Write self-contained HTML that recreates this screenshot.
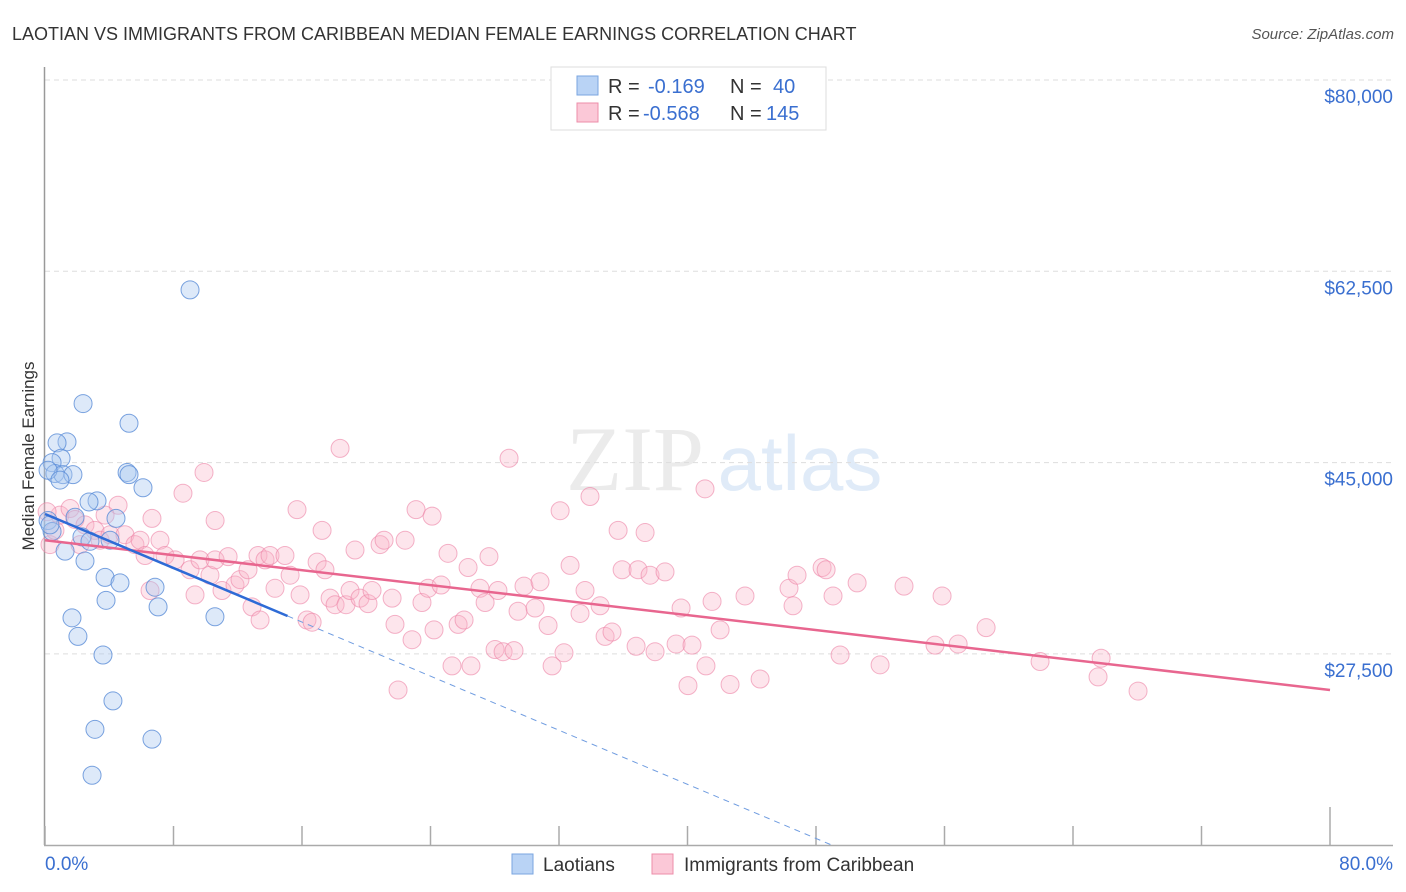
<!DOCTYPE html>
<html><head><meta charset="utf-8"><style>
body{margin:0;background:#fff;font-family:"Liberation Sans",sans-serif}
svg{display:block}
</style></head><body>
<svg id="chart" width="1406" height="892" viewBox="0 0 1406 892" xmlns="http://www.w3.org/2000/svg">
<text x="12" y="40" font-size="18" fill="#333">LAOTIAN VS IMMIGRANTS FROM CARIBBEAN MEDIAN FEMALE EARNINGS CORRELATION CHART</text>
<text x="1394" y="39" font-size="15" fill="#555" font-style="italic" text-anchor="end">Source: ZipAtlas.com</text>
<g opacity="0.35">
<text x="635" y="490" font-size="92" font-family="Liberation Serif,serif" fill="#c8c8c8" text-anchor="middle">ZIP</text>
<text x="800" y="490" font-size="78" fill="#a8c8ec" text-anchor="middle">atlas</text>
</g>
<g id="grid"></g>
<g id="axes"></g>
<g id="pink"></g>
<g id="blue"></g>
<g id="trends"></g>
<text transform="translate(34,456) rotate(-90)" font-size="17" fill="#333" text-anchor="middle">Median Female Earnings</text>
<g>
<rect x="551" y="67" width="275" height="63" fill="#fff" stroke="#ddd"/>
<rect x="577" y="76" width="21" height="19" fill="#b9d3f5" stroke="#7aa6e0"/>
<rect x="577" y="103" width="21" height="19" fill="#fbc8d7" stroke="#ec8eaa"/>
<text x="608" y="93" font-size="20" fill="#333">R = </text><text x="648" y="93" font-size="20" fill="#3a6fd0">-0.169</text>
<text x="730" y="93" font-size="20" fill="#333">N = </text><text x="773" y="93" font-size="20" fill="#3a6fd0">40</text>
<text x="608" y="120" font-size="20" fill="#333">R = </text><text x="643" y="120" font-size="20" fill="#3a6fd0">-0.568</text>
<text x="730" y="120" font-size="20" fill="#333">N = </text><text x="766" y="120" font-size="20" fill="#3a6fd0">145</text>
</g>
<g>
<rect x="512" y="854" width="21" height="20" fill="#b9d3f5" stroke="#7aa6e0"/>
<text x="543" y="871" font-size="19" fill="#333">Laotians</text>
<rect x="652" y="854" width="21" height="20" fill="#fbc8d7" stroke="#ec8eaa"/>
<text x="684" y="871" font-size="19" fill="#333">Immigrants from Caribbean</text>
</g>
</svg>
<script>
const yTicks=[80000,62500,45000,27500];
const yTickLabels=["$80,000","$62,500","$45,000","$27,500"];
const xTickVals=[0,8,16,24,32,40,48,56,64,72,80];
const xEndLabels=["0.0%","80.0%"];
const blueX=[9.03,2.37,5.23,1.37,0.75,1.0,0.44,0.62,1.12,1.74,5.11,5.23,6.10,3.24,2.74,4.42,1.87,0.19,0.44,2.30,2.80,1.25,2.49,3.74,4.67,3.80,6.85,7.04,1.68,10.58,2.05,3.61,4.23,3.11,6.66,2.93,0.19,0.31,0.93,4.05];
const blueY=[60.8,50.4,48.6,46.9,46.8,45.4,45.0,44.0,43.9,43.9,44.1,43.9,42.7,41.5,41.4,39.9,40.0,39.7,38.7,38.2,37.8,36.9,36.0,34.5,34.0,32.4,33.6,31.8,30.8,30.9,29.1,27.4,23.2,20.6,19.7,16.4,44.3,39.3,43.4,37.9];
const pinkX=[0.31,0.62,0.93,1.56,1.87,2.49,3.11,3.43,4.05,4.55,4.98,5.60,5.92,6.23,6.66,7.16,7.47,8.10,8.59,9.03,9.34,9.65,9.90,10.27,10.59,11.02,11.40,11.83,12.14,12.64,12.89,13.26,13.70,14.01,14.32,14.94,15.26,15.69,15.88,16.31,16.63,16.94,17.25,17.43,17.75,18.06,18.37,18.74,18.99,19.30,19.61,20.11,20.36,20.86,21.11,21.61,21.79,21.98,22.42,22.85,23.10,23.47,23.85,24.10,24.22,24.66,25.09,25.34,25.72,26.09,26.34,26.52,27.08,27.40,27.64,28.02,28.20,28.52,28.89,29.20,29.45,29.82,30.51,30.82,31.32,31.57,32.07,32.31,32.69,33.31,33.62,33.93,34.56,34.87,35.30,35.68,35.93,36.80,36.92,37.36,37.67,37.98,38.60,39.29,39.60,40.03,40.28,41.09,41.15,41.53,42.65,43.58,44.52,46.32,46.57,46.82,48.38,48.63,49.06,49.50,50.56,51.99,53.48,55.41,55.85,56.85,58.59,61.95,65.56,65.75,68.05,42.03,13.39,6.54,3.74,2.18,0.13,10.59];
const pinkY=[37.5,38.8,40.2,40.8,39.8,39.3,38.8,37.9,38.4,41.1,38.4,37.5,37.9,36.5,39.9,37.9,36.5,36.1,42.2,35.2,32.9,36.1,44.1,34.7,36.1,33.3,36.4,33.8,34.3,35.2,31.8,36.5,36.1,36.5,33.5,36.5,34.7,40.7,32.9,30.6,30.4,35.9,38.8,35.2,32.6,32.0,46.3,32.0,33.3,37.0,32.6,32.1,33.3,37.5,37.9,32.6,30.2,24.2,37.9,28.8,40.7,32.2,33.5,40.1,29.7,33.8,36.7,26.4,30.2,30.6,35.4,26.4,33.5,32.2,36.4,27.9,33.3,27.7,45.4,27.8,31.4,33.7,31.7,34.1,30.1,26.4,40.6,27.6,35.6,31.2,33.3,41.9,31.9,29.1,29.5,38.8,35.2,28.2,35.2,38.6,34.7,27.7,35.0,28.4,31.7,24.6,28.3,42.6,26.4,32.3,24.7,32.8,25.2,33.5,31.9,34.7,35.4,35.2,32.8,27.4,34.0,26.5,33.7,28.3,32.8,28.4,29.9,26.8,25.4,27.1,24.1,29.7,30.6,33.3,40.2,37.5,40.5,39.7];
const blueTrend=[[0,40.3],[15.1,30.97]];
const blueDash=[[15.1,30.97],[49.0,10.0]];
const pinkTrend=[[0,37.9],[80,24.2]];

const NS="http://www.w3.org/2000/svg";
const X=v=>45+v*1285/80;
const Yk=v=>80+(80-v)*191.3/17.5;
const Y=v=>Yk(v/1000);
function mk(tag,attrs,parent){const e=document.createElementNS(NS,tag);for(const k in attrs)e.setAttribute(k,attrs[k]);parent.appendChild(e);return e;}
const grid=document.getElementById('grid'),axes=document.getElementById('axes');
yTicks.forEach((t,i)=>{
  const l=mk('line',{x1:45,x2:1393,y1:Y(t),y2:Y(t),stroke:'#ddd','stroke-dasharray':'5,4'},grid);
  
  
  const tx=mk('text',{x:1393,y:Y(t)+23,'font-size':19,fill:'#3a6fd0','text-anchor':'end'},axes);
  tx.textContent=yTickLabels[i];
  
  
});
mk('line',{x1:44.5,x2:44.5,y1:67,y2:845,stroke:'#999','stroke-width':1.5},axes);
mk('line',{x1:44,x2:1393,y1:845.5,y2:845.5,stroke:'#aaa','stroke-width':1.5},axes);
xTickVals.forEach((t,i)=>{
  const top=(i===xTickVals.length-1)?807:826;
  const l=mk('line',{x1:X(t),x2:X(t),y1:top,y2:845,stroke:'#aaa','stroke-width':1.5},axes);
  
  
});
const xl0=mk('text',{x:45,y:870,'font-size':19,fill:'#3a6fd0'},axes);xl0.textContent=xEndLabels[0];


const xl1=mk('text',{x:1393,y:870,'font-size':19,fill:'#3a6fd0','text-anchor':'end'},axes);xl1.textContent=xEndLabels[1];


const pg=document.getElementById('pink');
pinkX.forEach((v,i)=>{
  const c=mk('circle',{cx:X(v),cy:Yk(pinkY[i]),r:9,fill:'rgba(248,180,200,0.35)',stroke:'rgba(236,130,165,0.6)','stroke-width':1},pg);
  
  
});
const bg=document.getElementById('blue');
blueX.forEach((v,i)=>{
  const c=mk('circle',{cx:X(v),cy:Yk(blueY[i]),r:9,fill:'rgba(170,200,240,0.4)',stroke:'rgba(90,140,215,0.8)','stroke-width':1},bg);
  
  
});
const tg=document.getElementById('trends');
const pl=mk('line',{x1:X(pinkTrend[0][0]),y1:Yk(pinkTrend[0][1]),x2:X(pinkTrend[1][0]),y2:Yk(pinkTrend[1][1]),stroke:'#e8668f','stroke-width':2.5},tg);


const bd=mk('line',{x1:X(blueDash[0][0]),y1:Yk(blueDash[0][1]),x2:X(blueDash[1][0]),y2:Yk(blueDash[1][1]),stroke:'#6f9ce0','stroke-width':1,'stroke-dasharray':'6,5'},tg);


const bl=mk('line',{x1:X(blueTrend[0][0]),y1:Yk(blueTrend[0][1]),x2:X(blueTrend[1][0]),y2:Yk(blueTrend[1][1]),stroke:'#2e6bd6','stroke-width':2.5},tg);


</script>
</body></html>
